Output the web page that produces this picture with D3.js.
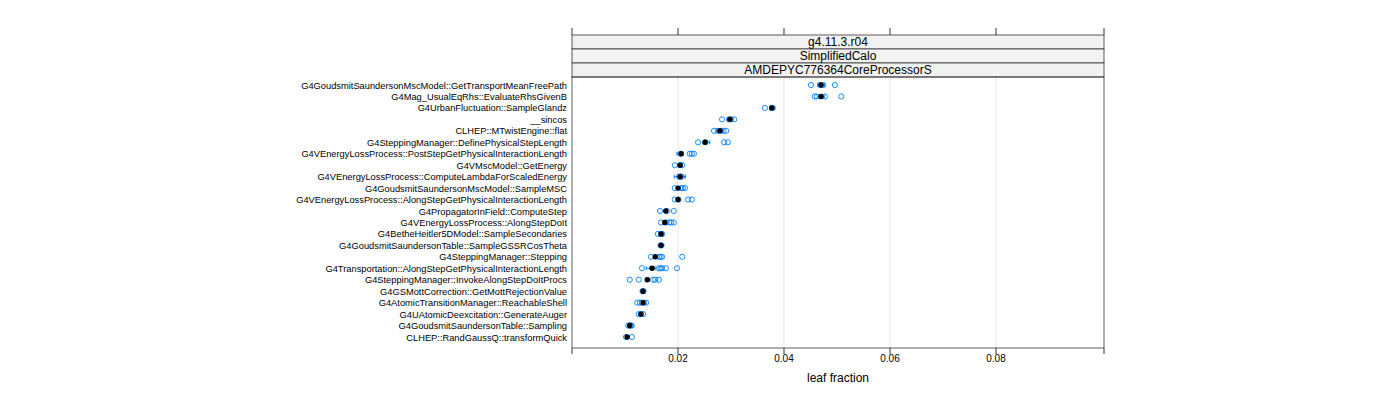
<!DOCTYPE html>
<html><head><meta charset="utf-8">
<script src="https://cdn.jsdelivr.net/npm/d3@7"></script>
<style>body{margin:0;background:#fff}</style>
</head><body><svg id="chart"></svg>
<script>
const functions = ["G4GoudsmitSaundersonMscModel::GetTransportMeanFreePath","G4Mag_UsualEqRhs::EvaluateRhsGivenB","G4UrbanFluctuation::SampleGlandz","__sincos","CLHEP::MTwistEngine::flat","G4SteppingManager::DefinePhysicalStepLength","G4VEnergyLossProcess::PostStepGetPhysicalInteractionLength","G4VMscModel::GetEnergy","G4VEnergyLossProcess::ComputeLambdaForScaledEnergy","G4GoudsmitSaundersonMscModel::SampleMSC","G4VEnergyLossProcess::AlongStepGetPhysicalInteractionLength","G4PropagatorInField::ComputeStep","G4VEnergyLossProcess::AlongStepDoIt","G4BetheHeitler5DModel::SampleSecondaries","G4GoudsmitSaundersonTable::SampleGSSRCosTheta","G4SteppingManager::Stepping","G4Transportation::AlongStepGetPhysicalInteractionLength","G4SteppingManager::InvokeAlongStepDoItProcs","G4GSMottCorrection::GetMottRejectionValue","G4AtomicTransitionManager::ReachableShell","G4UAtomicDeexcitation::GenerateAuger","G4GoudsmitSaundersonTable::Sampling","CLHEP::RandGaussQ::transformQuick"];
const medians = [0.0470,0.0470,0.0377,0.0298,0.0279,0.0251,0.0206,0.0204,0.0204,0.0200,0.0200,0.0177,0.0175,0.0168,0.0168,0.0157,0.0151,0.0142,0.0134,0.0134,0.0130,0.0109,0.0104];
const runs = [[0.0451,0.0468,0.0474,0.0496],[0.0458,0.0462,0.0477,0.0508],[0.0364,0.0377,0.0379],[0.0283,0.0296,0.0300,0.0306],[0.0268,0.0275,0.0281,0.0286,0.0291],[0.0238,0.0252,0.0287,0.0294],[0.0205,0.0222,0.0226,0.0230],[0.0194,0.0204,0.0208],[0.0202,0.0205,0.0207],[0.0194,0.0206,0.0209,0.0213],[0.0194,0.0201,0.0219,0.0226],[0.0166,0.0179,0.0192],[0.0168,0.0178,0.0184,0.0187,0.0192],[0.0162,0.0168,0.0170],[0.0167,0.0169],[0.0149,0.0164,0.0167,0.0170,0.0208],[0.0132,0.0164,0.0167,0.0170,0.0177,0.0198],[0.0109,0.0126,0.0153,0.0157,0.0164],[0.0133,0.0135],[0.0123,0.0128,0.0132,0.0136,0.0140],[0.0126,0.0130,0.0134],[0.0106,0.0109,0.0111,0.0113],[0.0102,0.0113]];
const lows = [0.0464,0.0465,0.0374,0.0294,0.0274,0.0248,0.0198,0.0202,0.0193,0.0198,0.0198,0.0175,0.0173,0.0166,0.0166,0.0155,0.0140,0.0139,0.0133,0.0132,0.0129,0.0107,0.0101];
const highs = [0.0476,0.0476,0.0380,0.0302,0.0284,0.0260,0.0210,0.0208,0.0214,0.0203,0.0203,0.0180,0.0178,0.0170,0.0170,0.0160,0.0157,0.0146,0.0136,0.0136,0.0132,0.0112,0.0107];
const strips = ["g4.11.3.r04","SimplifiedCalo","AMDEPYC776364CoreProcessorS"];
const ticks = [0.02,0.04,0.06,0.08];

const svg = d3.select("#chart").attr("width",1400).attr("height",400);
const L = 572, R = 1104, T = 77, B = 348;
const x = d3.scaleLinear().domain([0.0, 0.10038]).range([L, R]);
const y = d3.scalePoint().domain(functions).range([T+8, B-11]);
const blue = "#0080ff";

// grid
svg.selectAll(".grid").data(ticks).enter().append("line")
  .attr("x1", d=>x(d)).attr("x2", d=>x(d)).attr("y1", T).attr("y2", B)
  .attr("stroke", "#e6e6e6");

// strips
strips.forEach((s,i)=>{
  const sy = 35 + i*14;
  svg.append("rect").attr("x", L).attr("y", sy).attr("width", R-L).attr("height", 14)
    .attr("fill", "#f2f2f2").attr("stroke", "#333").attr("stroke-width", 0.8);
  svg.append("text").attr("x", (L+R)/2).attr("y", sy+11).attr("text-anchor","middle")
    .attr("font-family","Liberation Sans, Arial").attr("font-size",12).text(s);
});

// panel box
svg.append("rect").attr("x",L).attr("y",T).attr("width",R-L).attr("height",B-T)
  .attr("fill","none").attr("stroke","#333").attr("stroke-width",0.8);

// top and bottom tick marks
const allTicks = [0.0].concat(ticks).concat([0.10038]);
svg.selectAll(".tt").data(allTicks).enter().append("line")
  .attr("x1", d=>x(d)).attr("x2", d=>x(d)).attr("y1", 28).attr("y2", 35).attr("stroke","#333");
svg.selectAll(".bt").data(allTicks).enter().append("line")
  .attr("x1", d=>x(d)).attr("x2", d=>x(d)).attr("y1", B).attr("y2", B+6).attr("stroke","#333");
svg.selectAll(".bl").data(ticks).enter().append("text")
  .attr("x", d=>x(d)).attr("y", B+14).attr("text-anchor","middle")
  .attr("font-family","Liberation Sans, Arial").attr("font-size",10).text(d=>d.toFixed(2));
svg.append("text").attr("x",(L+R)/2).attr("y",382).attr("text-anchor","middle")
  .attr("font-family","Liberation Sans, Arial").attr("font-size",12).text("leaf fraction");

// y labels
svg.selectAll(".yl").data(functions).enter().append("text")
  .attr("x", L-5).attr("y", d=>y(d)+3.5).attr("text-anchor","end")
  .attr("font-family","Liberation Sans, Arial").attr("font-size",9.3).text(d=>d);

// error whiskers
functions.forEach((f,i)=>{
  const yy = y(f);
  svg.append("line").attr("x1",x(lows[i])).attr("x2",x(highs[i])).attr("y1",yy).attr("y2",yy)
    .attr("stroke",blue).attr("stroke-width",1);
  [lows[i],highs[i]].forEach(v=>svg.append("line").attr("x1",x(v)).attr("x2",x(v))
    .attr("y1",yy-2).attr("y2",yy+2).attr("stroke",blue));
  runs[i].forEach(v=>svg.append("circle").attr("cx",x(v)).attr("cy",yy).attr("r",2.6)
    .attr("fill","none").attr("stroke",blue).attr("stroke-width",0.9));
  svg.append("circle").attr("cx",x(medians[i])).attr("cy",yy).attr("r",2.7).attr("fill","#000");
});
</script></body></html>
